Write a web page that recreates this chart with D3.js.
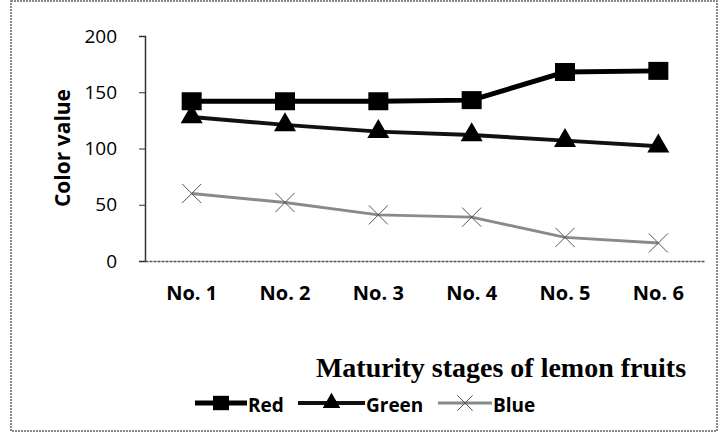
<!DOCTYPE html>
<html>
<head>
<meta charset="utf-8">
<script src="https://cdn.jsdelivr.net/npm/d3@7"></script>
<style>
  body { margin: 0; background: #fff; }
  svg { display: block; }
</style>
</head>
<body>
<svg width="721" height="441"></svg>
<script>
// The data
var stages = ["No. 1", "No. 2", "No. 3", "No. 4", "No. 5", "No. 6"];
var red = [142, 142, 142, 143, 168, 169];
var green = [128, 121, 115, 112, 107, 102];
var blue = [60, 52, 41, 39, 21, 16];
var yTicks = [0, 50, 100, 150, 200];

var series = [
  { name: "Red", values: red, shape: "square", color: "#000", width: 5 },
  { name: "Green", values: green, shape: "triangle", color: "#111", width: 4 },
  { name: "Blue", values: blue, shape: "cross", color: "#8a8a8a", width: 3 }
];

var sans = "'Open Sans', Lato, sans-serif";
var svg = d3.select("svg");

// outer frame
svg.append("rect")
    .attr("x", 11).attr("y", 1)
    .attr("width", 706).attr("height", 430)
    .attr("fill", "none")
    .attr("stroke", "#666")
    .attr("stroke-width", 1.5)
    .attr("stroke-dasharray", "2,1");

// scales
var x = d3.scaleBand().domain(stages).range([145, 705]);
var y = d3.scaleLinear().domain([0, 200]).range([261, 36]);

// y axis
var yAxis = svg.append("g")
    .attr("transform", "translate(145,0)")
    .call(d3.axisLeft(y).tickValues(yTicks).tickSize(6).tickPadding(22));
yAxis.select(".domain").attr("stroke", "#333").attr("stroke-width", 1.5);
yAxis.selectAll(".tick line").attr("stroke", "#333");
yAxis.selectAll("text")
    .attr("font-family", sans)
    .attr("font-size", 19)
    .attr("fill", "#000");

// x axis
var xAxis = svg.append("g")
    .attr("transform", "translate(0,261)")
    .call(d3.axisBottom(x).tickSize(0).tickPadding(25));
xAxis.select(".domain").attr("stroke", "#555").attr("stroke-width", 1.5).attr("stroke-dasharray", "3,1");
xAxis.selectAll("text")
    .attr("font-family", sans)
    .attr("font-weight", "bold")
    .attr("font-size", 20)
    .attr("fill", "#000");

// y title
svg.append("text")
    .attr("transform", "translate(70,148) rotate(-90)")
    .attr("text-anchor", "middle")
    .attr("font-family", sans)
    .attr("font-weight", "bold")
    .attr("font-size", 21)
    .text("Color value");

// x title
svg.append("text")
    .attr("x", 501).attr("y", 377)
    .attr("text-anchor", "middle")
    .attr("font-family", "'Liberation Serif', serif")
    .attr("font-weight", "bold")
    .attr("font-size", 28)
    .text("Maturity stages of lemon fruits");

function drawMarker(g, shape, cx, cy, s) {
  if (shape === "square") {
    g.append("rect")
        .attr("x", cx - 10 * s).attr("y", cy - 9 * s)
        .attr("width", 20 * s).attr("height", 18 * s)
        .attr("fill", "#000");
  } else if (shape === "triangle") {
    g.append("path")
        .attr("d", d3.symbol().type(d3.symbolTriangle).size(210 * s * s)())
        .attr("transform", "translate(" + cx + "," + cy + ")")
        .attr("fill", "#000");
  } else {
    g.append("path")
        .attr("d", d3.symbol().type(d3.symbolTimes).size(240 * s * s)())
        .attr("transform", "translate(" + cx + "," + cy + ")")
        .attr("fill", "none")
        .attr("stroke", "#555")
        .attr("stroke-width", 1);
  }
}

var line = d3.line()
    .x(function (d, i) { return x(stages[i]) + x.bandwidth() / 2; })
    .y(function (d) { return y(d); });

series.forEach(function (s) {
  var g = svg.append("g");
  g.append("path")
      .datum(s.values)
      .attr("d", line)
      .attr("fill", "none")
      .attr("stroke", s.color)
      .attr("stroke-width", s.width);
  s.values.forEach(function (v, i) {
    drawMarker(g, s.shape, x(stages[i]) + x.bandwidth() / 2, y(v), 1);
  });
});

// legend
var legendX = [195, 298, 438];
var legendW = [52, 67, 54];
series.forEach(function (s, i) {
  var g = svg.append("g").attr("transform", "translate(" + legendX[i] + ",403)");
  g.append("line")
      .attr("x1", 0).attr("x2", legendW[i])
      .attr("stroke", s.color)
      .attr("stroke-width", s.width);
  drawMarker(g, s.shape, legendW[i] / 2, 0, 0.8);
  g.append("text")
      .attr("x", legendW[i] + 1).attr("y", 9)
      .attr("font-family", sans)
      .attr("font-weight", "bold")
      .attr("font-size", 19)
      .text(s.name);
});
</script>
</body>
</html>
